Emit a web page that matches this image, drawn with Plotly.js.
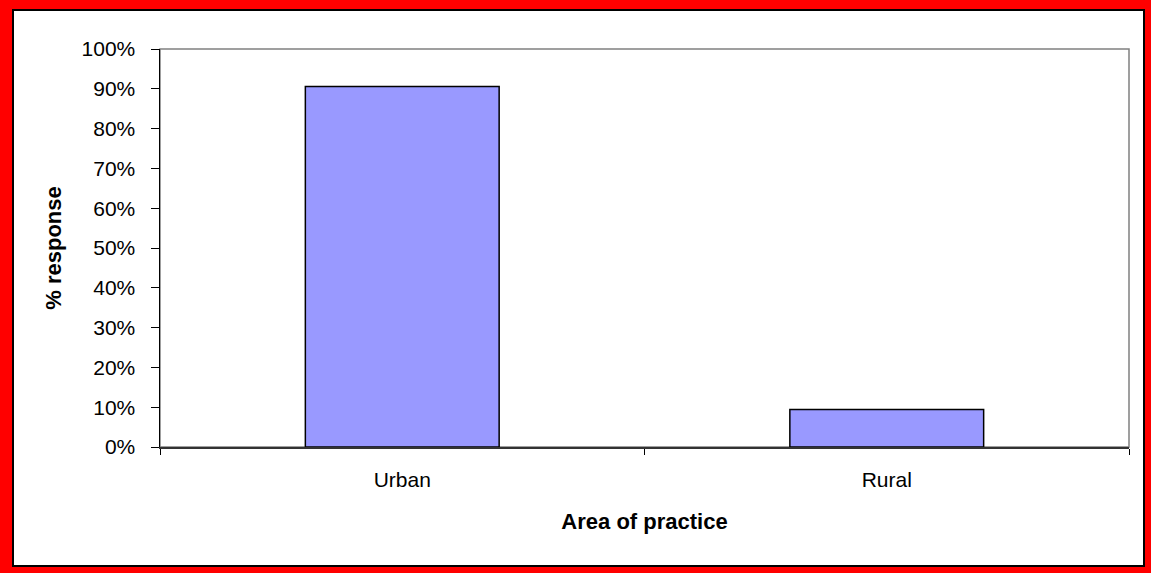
<!DOCTYPE html>
<html>
<head>
<meta charset="utf-8">
<script src="https://cdn.plot.ly/plotly-3.0.1.min.js"></script>
<style>
html,body{margin:0;padding:0;background:#fff;}
#chart{width:1151px;height:573px;}
</style>
</head>
<body>
<div id="chart"></div>
<script>
const categories = ["Urban", "Rural"];
const responsePct = [90.6, 9.4];
const yTickVals = [0, 10, 20, 30, 40, 50, 60, 70, 80, 90, 100];
const yTickText = ["0%", "10%", "20%", "30%", "40%", "50%", "60%", "70%", "80%", "90%", "100%"];

const W = 1151, H = 573;
const L = 160, R = 1129, T = 49, B = 447;
const px = x => (x - L) / (R - L);
const py = y => (B - y) / (B - T);

const frameShapes = [
  {type:'rect', xref:'paper', yref:'paper', x0:px(0), x1:px(12), y0:py(573), y1:py(0), fillcolor:'#ff0000', line:{width:0}, layer:'above'},
  {type:'rect', xref:'paper', yref:'paper', x0:px(1145), x1:px(1151), y0:py(573), y1:py(0), fillcolor:'#ff0000', line:{width:0}, layer:'above'},
  {type:'rect', xref:'paper', yref:'paper', x0:px(0), x1:px(1151), y0:py(9), y1:py(0), fillcolor:'#ff0000', line:{width:0}, layer:'above'},
  {type:'rect', xref:'paper', yref:'paper', x0:px(0), x1:px(1151), y0:py(573), y1:py(567), fillcolor:'#ff0000', line:{width:0}, layer:'above'},
  {type:'rect', xref:'paper', yref:'paper', x0:px(13), x1:px(1144), y0:py(566), y1:py(10), fillcolor:'rgba(0,0,0,0)', line:{color:'#000', width:2}, layer:'above'},
  {type:'rect', xref:'paper', yref:'paper', x0:0, x1:1, y0:0, y1:1, fillcolor:'rgba(0,0,0,0)', line:{color:'#808080', width:1.5}, layer:'below'}
];

const trace = {
  type:'bar',
  x: categories,
  y: responsePct,
  marker:{color:'#9999ff', line:{color:'#000', width:1.5}},
  hoverinfo:'none'
};

const layout = {
  width:W, height:H,
  margin:{l:L, r:W-R, t:T, b:H-B, pad:0},
  paper_bgcolor:'#fff', plot_bgcolor:'#fff',
  showlegend:false,
  bargap:0.6,
  font:{family:'Arial, Liberation Sans, sans-serif', color:'#000', size:21},
  xaxis:{
    type:'category',
    showline:true, linecolor:'#333', linewidth:1.5,
    ticks:'outside', tickson:'boundaries', ticklen:6, tickcolor:'#000', tickwidth:1,
    showgrid:false, zeroline:false,
    ticklabelstandoff:13,
    tickfont:{size:21},
    title:{text:'<b>Area of practice</b>', font:{size:22}, standoff:24}
  },
  yaxis:{
    range:[0,100], autorange:false,
    tickvals:yTickVals, ticktext:yTickText,
    showline:true, linecolor:'#000', linewidth:1.5,
    ticks:'outside', ticklen:8, tickcolor:'#000', tickwidth:1,
    showgrid:false, zeroline:false,
    ticklabelstandoff:11,
    tickfont:{size:21},
    title:{text:'<b>% response</b>', font:{size:22}, standoff:14}
  },
  shapes: frameShapes
};

Plotly.newPlot('chart', [trace], layout, {staticPlot:true, displayModeBar:false});
</script>
</body>
</html>
